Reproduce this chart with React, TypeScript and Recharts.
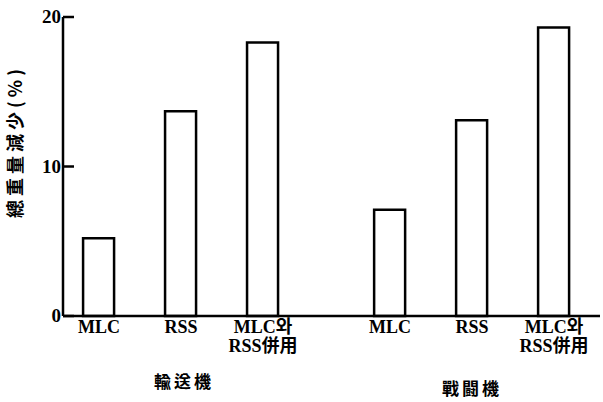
import React from 'react';
import { BarChart, Bar, XAxis, YAxis } from 'recharts';

const categories = ['MLC', 'RSS', 'MLC와\nRSS併用', 'MLC', 'RSS', 'MLC와\nRSS併用'];
const groupOf = [0, 0, 0, 1, 1, 1];
const groups = ['輸送機', '戰闘機'];
const values = [5.2, 13.7, 18.3, 7.1, 13.1, 19.3];
const yTicks = [0, 10, 20];

// bars sit on a number axis; second group is pushed right a bit
const data = categories.map((name, i) => ({
  pos: i + groupOf[i] * 0.55,
  name,
  value: values[i],
}));

const latin = '"Liberation Serif", "Noto Sans CJK KR", serif';
const cjk = '"Noto Sans CJK KR", sans-serif';

const XTick = (props: any) => {
  const { x, y, index } = props;
  const lines = categories[index].split('\n');
  const isMid = index === 1 || index === 4;
  return (
    <g>
      {lines.map((line, k) => (
        <text
          key={k}
          x={x}
          y={y + 9 + k * 19}
          textAnchor="middle"
          fontFamily={latin}
          fontWeight="bold"
          fontSize={18}
          fill="#000"
        >
          {line}
        </text>
      ))}
      {isMid && (
        <text
          x={x + (groupOf[index] === 0 ? 3 : 0)}
          y={y + 64 + groupOf[index] * 7}
          textAnchor="middle"
          fontFamily={cjk}
          fontWeight="bold"
          fontSize={17}
          letterSpacing={3}
          fill="#000"
        >
          {groups[groupOf[index]]}
        </text>
      )}
    </g>
  );
};

// ticks point into the plot, labels sit left of the axis
const YTick = (props: any) => {
  const { x, y, payload } = props;
  return (
    <g>
      <line x1={x} y1={y} x2={x + 11} y2={y} stroke="#000" strokeWidth={2.5} />
      <text
        x={x - 2}
        y={y + 6}
        textAnchor="end"
        fontFamily={latin}
        fontWeight="bold"
        fontSize={19}
        fill="#000"
      >
        {payload.value}
      </text>
    </g>
  );
};

const App: React.FC = () => {
  return (
    <div style={{ position: 'absolute', left: 0, top: 0, width: 603, height: 402, background: '#fff' }}>
      <BarChart
        width={603}
        height={402}
        data={data}
        margin={{ top: 17, right: 3, bottom: 0, left: 0 }}
      >
        <XAxis
          dataKey="pos"
          type="number"
          domain={[-0.44, 6.11]}
          ticks={data.map(d => d.pos)}
          tick={<XTick />}
          tickLine={false}
          axisLine={{ stroke: '#000', strokeWidth: 2.5 }}
          interval={0}
          height={86}
        />
        <YAxis
          domain={[0, 20]}
          ticks={yTicks}
          width={63}
          tickSize={0}
          tickMargin={0}
          tickLine={false}
          axisLine={{ stroke: '#000', strokeWidth: 2.5 }}
          tick={<YTick />}
          label={{
            value: '總重量減少(%)',
            angle: -90,
            position: 'insideLeft',
            offset: 16,
            dy: -25,
            style: { fill: '#000', fontFamily: cjk, fontWeight: 'bold', fontSize: 18, letterSpacing: 4, textAnchor: 'middle' },
          }}
        />
        <Bar
          dataKey="value"
          fill="#fff"
          stroke="#000"
          strokeWidth={2.5}
          barSize={31}
          isAnimationActive={false}
        />
      </BarChart>
    </div>
  );
};

export default App;
